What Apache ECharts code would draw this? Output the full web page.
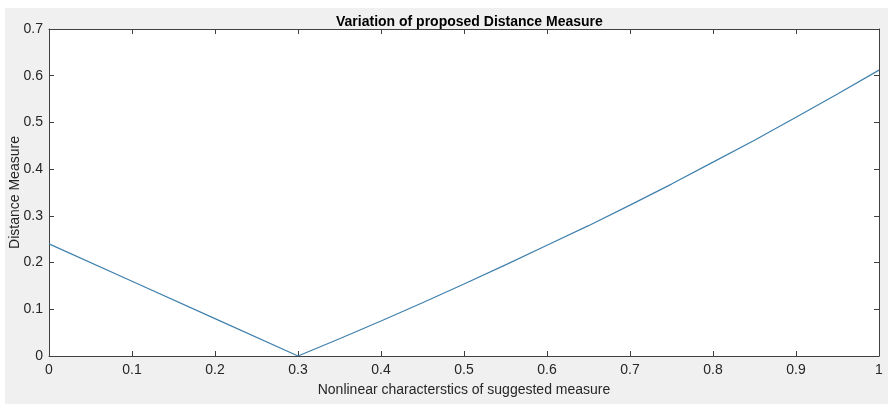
<!DOCTYPE html>
<html>
<head>
<meta charset="utf-8">
<script src="https://cdn.jsdelivr.net/npm/echarts@6/dist/echarts.min.js"></script>
<style>
  html, body { margin: 0; padding: 0; background: #fff; }
  #chart { position: absolute; left: 5px; top: 8px; width: 883px; height: 396px; }
</style>
</head>
<body>
<div id="chart"></div>
<script>
// 数据
const xValues = [0, 0.1, 0.2, 0.3, 0.35, 0.4, 0.45, 0.5, 0.55, 0.6, 0.65, 0.7, 0.75, 0.8, 0.85, 0.9, 0.95, 1.0]
const distValues = [0.24, 0.16, 0.08, 0, 0.037, 0.075, 0.114, 0.154, 0.195, 0.237, 0.279, 0.323, 0.368, 0.415, 0.462, 0.511, 0.561, 0.612]
const xTicks = [0, 0.1, 0.2, 0.3, 0.4, 0.5, 0.6, 0.7, 0.8, 0.9, 1]
const yTicks = [0, 0.1, 0.2, 0.3, 0.4, 0.5, 0.6, 0.7]

const chart = echarts.init(document.getElementById('chart'))
const font = 'Liberation Sans, Arial, sans-serif'
const axisColor = '#404040'

// 坐标轴公共样式
const boxAxis = {
  axisLine: { show: true, onZero: false, lineStyle: { color: axisColor, width: 1 } },
  axisTick: { show: true, inside: true, length: 5, lineStyle: { color: axisColor } },
  splitLine: { show: false }
}

const option = {
  backgroundColor: '#f0f0f0',
  animation: false,
  title: {
    text: 'Variation of proposed Distance Measure',
    left: 326,
    top: 2,
    textStyle: { fontFamily: font, fontSize: 14, fontWeight: 'bold', color: '#000' }
  },
  grid: {
    left: 44, right: 9, top: 21, bottom: 48,
    outerBoundsMode: 'none', containLabel: false,
    backgroundColor: '#fff', show: true, borderWidth: 0
  },
  xAxis: [
    Object.assign({
      type: 'value',
      min: 0,
      max: 1,
      interval: 0.1,
      position: 'bottom',
      name: 'Nonlinear characterstics of suggested measure',
      nameLocation: 'middle',
      nameGap: 27,
      nameMoveOverlap: false,
      nameTextStyle: { fontFamily: font, fontSize: 14, color: '#262626' },
      axisLabel: {
        fontFamily: font, fontSize: 14, color: '#262626', margin: 7,
        formatter: v => xTicks.includes(Math.round(v * 10) / 10) ? String(Math.round(v * 10) / 10) : ''
      }
    }, boxAxis),
    Object.assign({
      type: 'value', min: 0, max: 1, interval: 0.1, position: 'top',
      axisLabel: { show: false }
    }, boxAxis)
  ],
  yAxis: [
    Object.assign({
      type: 'value',
      min: 0,
      max: 0.7,
      interval: 0.1,
      position: 'left',
      name: 'Distance Measure',
      nameLocation: 'middle',
      nameGap: 27,
      nameMoveOverlap: false,
      nameTextStyle: { fontFamily: font, fontSize: 14, color: '#262626' },
      axisLabel: {
        fontFamily: font, fontSize: 14, color: '#262626', margin: 6,
        formatter: v => yTicks.includes(Math.round(v * 10) / 10) ? String(Math.round(v * 10) / 10) : ''
      }
    }, boxAxis),
    Object.assign({
      type: 'value', min: 0, max: 0.7, interval: 0.1, position: 'right',
      axisLabel: { show: false }
    }, boxAxis)
  ],
  series: [
    {
      type: 'line',
      data: xValues.map((x, i) => [x, distValues[i]]),
      showSymbol: false,
      lineStyle: { color: '#3f80ad', width: 1.2 },
      clip: true
    }
  ]
}

chart.setOption(option)
</script>
</body>
</html>
